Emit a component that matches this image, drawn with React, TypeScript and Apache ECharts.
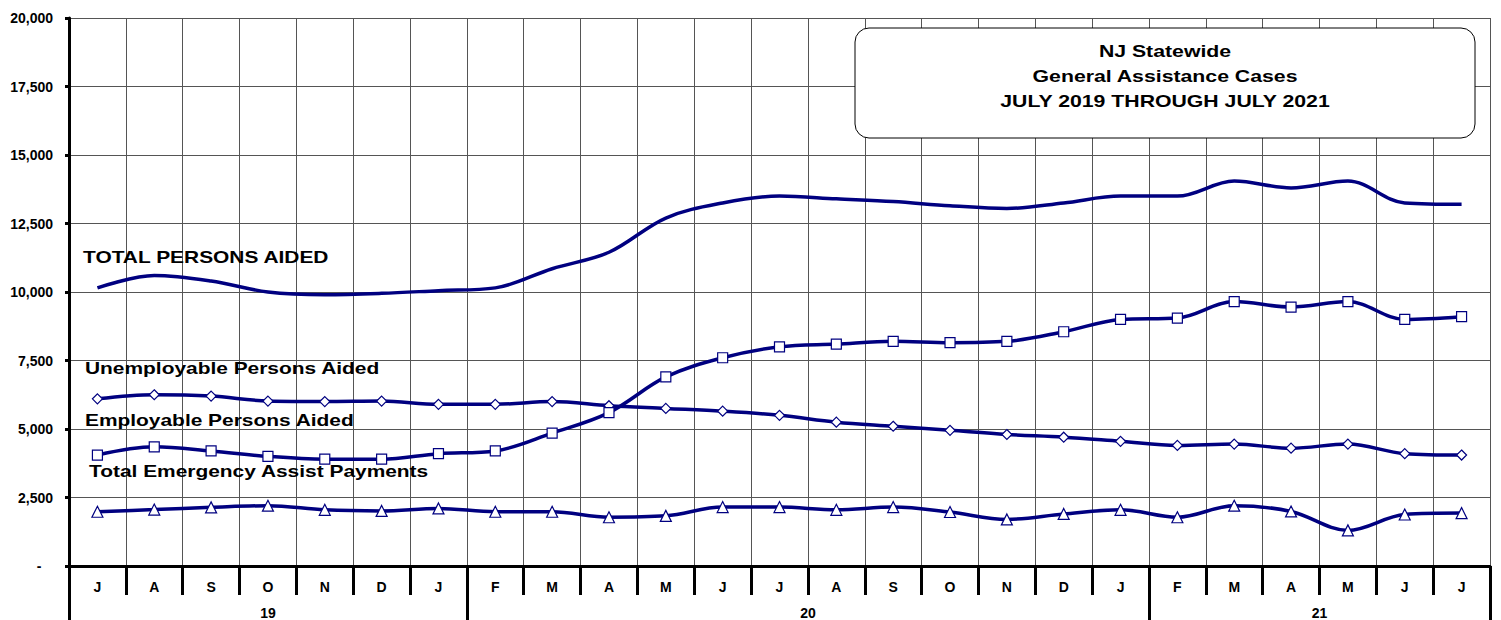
import React, { useEffect, useRef } from "react";
import * as echarts from "echarts";

const months = ["J", "A", "S", "O", "N", "D", "J", "F", "M", "A", "M", "J", "J", "A", "S", "O", "N", "D", "J", "F", "M", "A", "M", "J", "J"];
const yearLabels = ["19", "20", "21"];
const yearLabelPos = [3.5, 13, 22];
const yearBoundaries = [0, 7, 19, 25];

const totalPersons = [10150, 10600, 10400, 10000, 9900, 9950, 10050, 10150, 10850, 11450, 12700, 13250, 13500, 13400, 13300, 13150, 13050, 13250, 13500, 13500, 14050, 13800, 14050, 13250, 13200];
const unemployable = [6100, 6250, 6200, 6020, 6000, 6020, 5900, 5900, 6000, 5850, 5750, 5650, 5500, 5250, 5100, 4950, 4800, 4700, 4550, 4400, 4450, 4300, 4450, 4100, 4050];
const employable = [4050, 4350, 4200, 4000, 3900, 3900, 4100, 4200, 4850, 5600, 6900, 7600, 8000, 8100, 8200, 8150, 8200, 8550, 9000, 9050, 9650, 9450, 9650, 9000, 9100];
const emergency = [1980, 2060, 2140, 2200, 2050, 2010, 2100, 1980, 1980, 1780, 1830, 2150, 2150, 2050, 2150, 1970, 1700, 1900, 2050, 1780, 2200, 1990, 1300, 1880, 1930];

const titleLines = ["NJ Statewide", "General Assistance Cases", "JULY 2019 THROUGH JULY 2021"];
const seriesNotes = ["TOTAL PERSONS AIDED", "Unemployable Persons Aided", "Employable Persons Aided", "Total Emergency Assist Payments"];

const FONT = '"Liberation Sans", Arial, sans-serif';
const NAVY = "#000080";

export default function App() {
  const ref = useRef<HTMLDivElement>(null);
  useEffect(() => {
    if (!ref.current) return;
    const chart = echarts.init(ref.current, null, { renderer: "svg" });
    const marker = (symbol: string, size: number) => ({
      symbol,
      symbolSize: size,
      showSymbol: true,
      itemStyle: { color: "#ffffff", borderColor: NAVY, borderWidth: 1.2 },
    });
    const lineBase = {
      type: "line",
      smooth: 0.35,
      lineStyle: { color: NAVY, width: 3.5 },
      xAxisIndex: 0,
      yAxisIndex: 0,
    };
    const notePos = [
      { x: 83, y: 257 },
      { x: 85, y: 368 },
      { x: 85, y: 420 },
      { x: 89, y: 471 },
    ];
    chart.setOption({
      animation: false,
      backgroundColor: "#ffffff",
      grid: { left: 69, right: 11, top: 18, bottom: 54, containLabel: false },
      xAxis: [
        {
          type: "category",
          data: months,
          boundaryGap: true,
          position: "bottom",
          axisLine: { show: true, lineStyle: { color: "#000", width: 3 } },
          axisTick: { show: true, length: 29, lineStyle: { color: "#000", width: 3 } },
          axisLabel: { show: true, margin: 14, color: "#000", fontWeight: "bold", fontSize: 14, fontFamily: FONT },
          splitLine: { show: true, lineStyle: { color: "#555", width: 1 } },
        },
        {
          type: "value",
          min: 0,
          max: 25,
          position: "bottom",
          axisLine: { show: false },
          splitLine: { show: false },
          axisTick: { show: true, customValues: yearBoundaries, length: 56, lineStyle: { color: "#000", width: 3 } },
          axisLabel: {
            show: true,
            customValues: yearLabelPos,
            margin: 40,
            color: "#000",
            fontWeight: "bold",
            fontSize: 14,
            fontFamily: FONT,
            formatter: (v: number) => {
              const i = yearLabelPos.indexOf(v);
              return i >= 0 ? yearLabels[i] : "";
            },
          },
        },
      ],
      yAxis: {
        type: "value",
        min: 0,
        max: 20000,
        interval: 2500,
        axisLine: { show: true, lineStyle: { color: "#000", width: 3 } },
        axisTick: { show: true, length: 4, lineStyle: { color: "#000", width: 3 } },
        axisLabel: {
          margin: 16,
          color: "#000",
          fontWeight: "bold",
          fontSize: 14,
          fontFamily: FONT,
          formatter: (v: number) => (v === 0 ? "-\u00a0\u00a0\u00a0" : v.toLocaleString("en-US")),
        },
        splitLine: { show: true, lineStyle: { color: "#555", width: 1 } },
      },
      series: [
        { ...lineBase, name: seriesNotes[0], data: totalPersons, symbol: "none", showSymbol: false },
        { ...lineBase, name: seriesNotes[1], data: unemployable, ...marker("diamond", 10) },
        { ...lineBase, name: seriesNotes[2], data: employable, ...marker("rect", 10) },
        { ...lineBase, name: seriesNotes[3], data: emergency, ...marker("triangle", 11) },
      ],
      graphic: [
        {
          type: "rect",
          z: 10,
          shape: { x: 855, y: 28, width: 620, height: 110, r: 14 },
          style: { fill: "#ffffff", stroke: "#000", lineWidth: 1 },
        },
        ...titleLines.map((t, i) => ({
          type: "text",
          z: 11,
          x: 1165,
          y: 51 + i * 25,
          scaleX: 1.25,
          style: {
            text: t,
            x: 0,
            y: 0,
            textAlign: "center",
            textVerticalAlign: "middle",
            font: `bold 17px ${FONT}`,
            fill: "#000",
          },
        })),
        ...seriesNotes.map((t, i) => ({
          type: "text",
          z: 11,
          x: notePos[i].x,
          y: notePos[i].y,
          scaleX: 1.23,
          style: {
            text: t,
            x: 0,
            y: 0,
            textAlign: "left",
            textVerticalAlign: "middle",
            font: `bold 17px ${FONT}`,
            fill: "#000",
          },
        })),
      ],
    });
    return () => chart.dispose();
  }, []);
  return <div ref={ref} style={{ position: "fixed", left: 0, top: 0, width: 1501, height: 620 }} />;
}
